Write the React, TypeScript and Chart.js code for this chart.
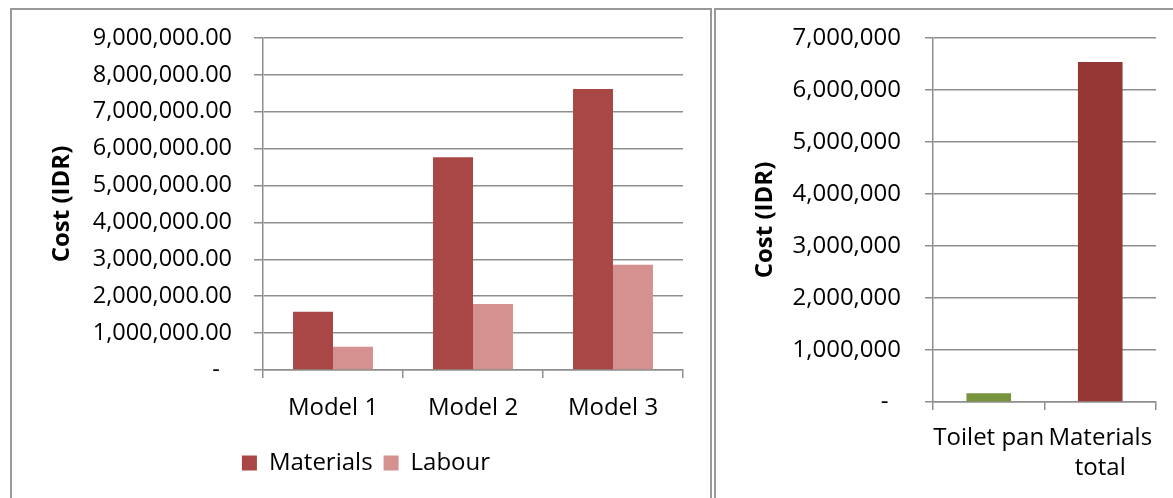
import React, { useEffect, useRef } from "react";
import { Chart, registerables } from "chart.js";

Chart.register(...registerables);

const modelCategories = ["Model 1", "Model 2", "Model 3"];
const materialsValues = [1580000, 5770000, 7620000];
const labourValues = [630000, 1790000, 2850000];
const leftTickMax = 9000000;
const leftTickStep = 1000000;

const compareCategories = ["Toilet pan", ["Materials", "total"]];
const compareValues = [169000, 6540000];
const rightTickMax = 7000000;
const rightTickStep = 1000000;

const FONT = "'Open Sans', 'DejaVu Sans', sans-serif";
const GRID = "#8e8e8e";

function LeftChart() {
  const ref = useRef<HTMLCanvasElement | null>(null);
  useEffect(() => {
    if (!ref.current) return;
    const chart = new Chart(ref.current, {
      type: "bar",
      data: {
        labels: modelCategories,
        datasets: [
          { label: "Materials", data: materialsValues, backgroundColor: "#A84746", barPercentage: 1, categoryPercentage: 0.571 },
          { label: "Labour", data: labourValues, backgroundColor: "#D49190", barPercentage: 1, categoryPercentage: 0.571 },
        ],
      },
      options: {
        animation: false,
        responsive: false,
        maintainAspectRatio: false,
        layout: { padding: { top: 28, right: 27, left: 37, bottom: 13 } },
        plugins: {
          tooltip: { enabled: false },
          legend: {
            position: "bottom",
            labels: {
              boxWidth: 15,
              boxHeight: 15,
              padding: 11,
              color: "#000",
              font: { family: FONT, size: 24 },
            },
          },
        },
        scales: {
          x: {
            grid: { drawOnChartArea: false, drawTicks: true, tickLength: 8, color: GRID, lineWidth: 1.5, offset: true },
            border: { display: true, color: GRID, width: 1.5 },
            ticks: { color: "#000", padding: 16, font: { family: FONT, size: 24 } },
            afterFit: (s: any) => { s.height = 70; },
          },
          y: {
            min: 0,
            max: leftTickMax,
            ticks: {
              stepSize: leftTickStep,
              color: "#000",
              padding: 22,
              font: { family: FONT, size: 23.5 },
              callback: (v: any) => (Number(v) === 0 ? "-  " : Number(v).toLocaleString("en-US", { minimumFractionDigits: 2, maximumFractionDigits: 2 })),
            },
            grid: { color: GRID, lineWidth: 1.5, tickLength: 9 },
            border: { display: true, color: GRID, width: 1.5 },
            title: { display: true, text: "Cost (IDR)", color: "#000", font: { family: FONT, size: 24, weight: "bold" }, padding: { top: -1, bottom: 0 } },
            afterFit: (s: any) => { s.width = 214; s.paddingTop = 0; s.paddingBottom = 0; },
          },
        },
      },
    });
    return () => chart.destroy();
  }, []);
  return <canvas ref={ref} width={698} height={488} style={{ position: "absolute", left: 12, top: 10, width: 698, height: 488 }} />;
}

function RightChart() {
  const ref = useRef<HTMLCanvasElement | null>(null);
  useEffect(() => {
    if (!ref.current) return;
    const chart = new Chart(ref.current, {
      type: "bar",
      data: {
        labels: compareCategories as any,
        datasets: [
          { label: "Cost", data: compareValues, backgroundColor: ["#77933C", "#953735"], barPercentage: 1, categoryPercentage: 0.4 },
        ],
      },
      options: {
        animation: false,
        responsive: false,
        maintainAspectRatio: false,
        layout: { padding: { top: 28, right: 17, left: 0, bottom: 0 } },
        plugins: { tooltip: { enabled: false }, legend: { display: false } },
        scales: {
          x: {
            grid: { drawOnChartArea: false, drawTicks: true, tickLength: 8, color: GRID, lineWidth: 1.5, offset: true },
            border: { display: true, color: GRID, width: 1.5 },
            ticks: { color: "#000", padding: 13, maxRotation: 0, autoSkip: false, font: { family: FONT, size: 24, lineHeight: 1.25 } },
            afterFit: (s: any) => { s.height = 96; },
          },
          y: {
            min: 0,
            max: rightTickMax,
            ticks: {
              stepSize: rightTickStep,
              color: "#000",
              padding: 24,
              font: { family: FONT, size: 24 },
              callback: (v: any) => (Number(v) === 0 ? "-  " : Number(v).toLocaleString("en-US")),
            },
            grid: { color: GRID, lineWidth: 1.5, tickLength: 8 },
            border: { display: true, color: GRID, width: 1.5 },
            title: { display: true, text: "Cost (IDR)", color: "#000", font: { family: FONT, size: 24, weight: "bold" }, padding: { top: 35, bottom: 0 } },
            afterFit: (s: any) => { s.width = 217; s.paddingTop = 0; s.paddingBottom = 0; },
          },
        },
      },
    });
    return () => chart.destroy();
  }, []);
  return <canvas ref={ref} width={457} height={488} style={{ position: "absolute", left: 716, top: 10, width: 457, height: 488 }} />;
}

export default function App() {
  return (
    <div style={{ position: "fixed", left: 0, top: 0, width: 1173, height: 498, overflow: "hidden", background: "#fff" }}>
      <div style={{ position: "absolute", left: 10, top: 8, width: 698, height: 600, border: "2px solid #999" }} />
      <div style={{ position: "absolute", left: 714, top: 8, width: 600, height: 600, border: "2px solid #999" }} />
      <LeftChart />
      <RightChart />
    </div>
  );
}
